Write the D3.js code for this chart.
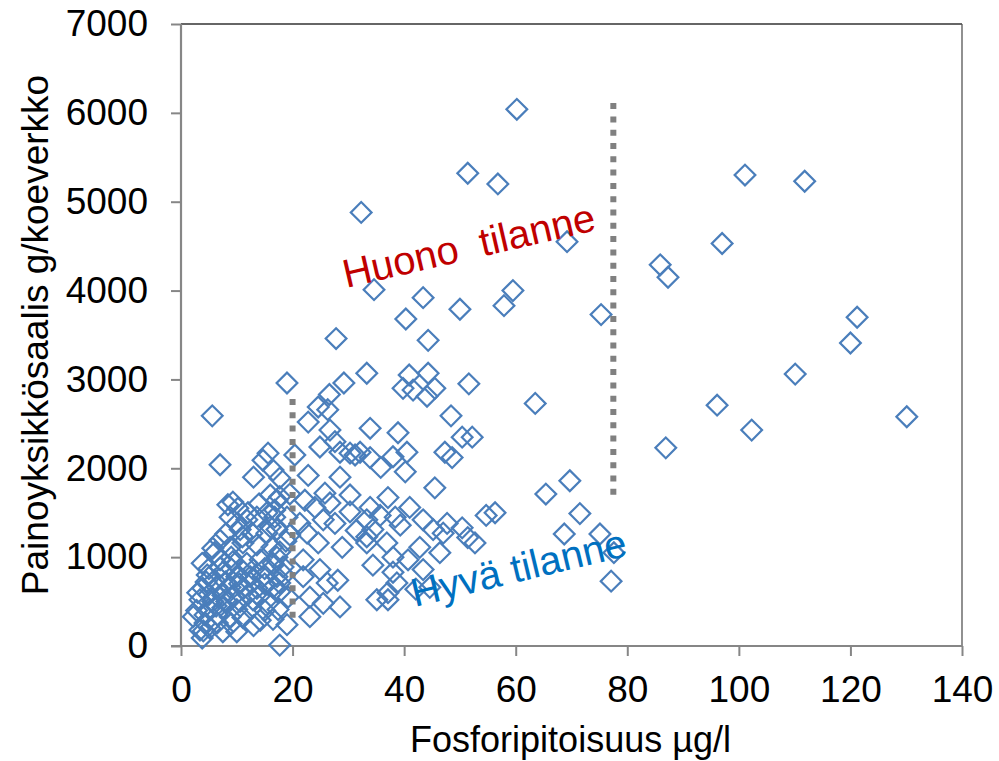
<!DOCTYPE html>
<html><head><meta charset="utf-8">
<script src="https://cdn.jsdelivr.net/npm/d3@7"></script>
<style>
body{margin:0;background:#fff;}
text{font-family:"Liberation Sans",Arial,sans-serif;}
</style></head>
<body><svg id="c" width="999" height="761"></svg>
<script>
// Phosphorus (µg/l)
const phosphorus = [
60.2,51.4,56.8,32.3,101.1,111.8,69.2,85.9,87.3,97.0,34.6,59.5,57.9,43.4,40.3,50.0,75.3,121.2,120.0,27.8,
44.3,110.1,33.3,40.9,44.3,19.0,29.2,51.6,39.8,41.6,45.5,44.1,63.5,96.1,130.1,102.3,86.9,5.6,7.0,22.8,
48.4,26.6,24.6,26.3,26.7,27.6,28.5,32.1,33.9,31.2,30.3,33.9,38.9,50.4,52.2,47.3,48.6,40.5,38.0,40.2,
35.8,24.9,20.4,15.6,14.7,16.5,17.7,22.8,28.5,45.5,69.7,65.4,71.5,68.7,75.1,77.6,77.1,54.7,56.3,52.7,
51.4,50.4,47.7,47.0,45.2,43.4,42.8,46.4,41.0,37.1,38.4,39.3,38.0,38.0,38.7,43.4,44.6,37.1,40.7,42.1,
34.4,35.1,37.1,30.3,25.8,24.0,26.7,25.5,27.6,30.3,33.9,33.3,35.7,17.2,16.8,21.3,22.6,19.5,17.2,24.6,
28.9,33.3,34.4,33.3,36.9,17.2,18.3,21.9,21.9,24.9,26.2,28.1,17.7,19.2,23.1,25.5,28.5,23.1,17.4,22.2,
19.5,31.4,
9.3,8.4,10.2,11.8,8.8,13.6,15.4,16.8,17.7,10.6,12.7,15.4,16.0,7.0,8.8,11.1,13.6,16.3,17.7,5.7,
3.8,7.0,9.3,11.8,14.2,16.5,4.7,7.5,10.0,12.4,14.7,17.2,3.9,6.5,8.8,11.1,13.6,16.5,17.7,3.4,
5.7,8.2,10.6,12.9,15.6,2.2,4.3,6.5,8.8,11.1,14.2,3.4,5.2,7.5,10.0,3.8,17.7,
6.0,8.0,10.0,12.0,14.0,16.0,5.0,7.0,9.0,11.0,13.0,15.0,4.5,6.0,8.0,10.5,12.5,15.0,3.0,5.0,
7.5,9.5,12.0,14.0,2.8,5.0,7.5,10.0,12.5,15.0,4.3,6.5,9.0,13.0,16.5,18.5,18.8,19.0,13.0,11.0,
9.0,6.3,4.0,19.0
];
// Catch per unit effort (g/net)
const catchPerNet = [
6040,5320,5200,4880,5300,5230,4550,4290,4150,4530,4010,4000,3830,3920,3680,3790,3730,3700,3410,3460,
3440,3060,3070,3050,3070,2960,2960,2950,2900,2880,2900,2810,2730,2710,2580,2430,2230,2590,2040,2520,
2590,2830,2690,2660,2430,2300,2180,2180,2120,2150,2170,2450,2400,2350,2350,2180,2120,2180,2130,1960,
2010,2240,2150,2170,2090,1980,1890,1920,1900,1780,1860,1710,1490,1260,1260,1050,730,1470,1500,1160,
1220,1330,1380,1270,1310,1420,1110,1050,1560,1670,1450,1360,1000,830,710,860,660,520,970,640,
910,520,600,1700,1720,1560,1610,1420,1380,1510,1560,1420,1470,1640,1450,1380,1270,1250,1310,1160,
1110,1230,1310,1160,1160,1000,890,970,780,860,710,740,710,550,550,480,440,330,410,1640,
1710,1300,
1620,1590,1550,1420,1450,1450,1500,1530,1680,1310,1270,1270,1340,1190,1110,1160,1140,1110,1060,1100,
930,970,950,930,970,930,800,830,780,780,780,780,650,660,660,650,650,660,610,520,
500,500,500,520,480,330,350,350,330,320,290,180,200,160,160,90,10,
1050,1260,1380,1500,1600,1700,870,880,870,850,860,870,720,740,720,700,710,700,600,580,
570,560,580,560,400,420,430,410,420,400,260,260,250,230,300,800,1180,1450,1900,1230,
1000,450,170,240
];
const xTicks = [0,20,40,60,80,100,120,140];
const yTicks = [0,1000,2000,3000,4000,5000,6000,7000];
// threshold lines: [x, yTop, yBottom]
const thresholds = [[20,2780,315],[77.5,6110,1677]];
const labels = [
  {text:"Huono  tilanne", x:29.6, y:4030, angle:-13, color:"#C00000"},
  {text:"Hyvä tilanne", x:41.9, y:440, angle:-13.5, color:"#0070C0"}
];
const xTitle = "Fosforipitoisuus µg/l";
const yTitle = "Painoyksikkösaalis g/koeverkko";

const svg = d3.select("#c");
const L=181, T=24, R=962, B=646;
const x = d3.scaleLinear().domain([0,140]).range([L,R]);
const y = d3.scaleLinear().domain([0,7000]).range([B,T]);
const axisCol="#868686";

// plot border top/right
svg.append("line").attr("x1",L).attr("x2",R).attr("y1",T).attr("y2",T).attr("stroke","#333").attr("stroke-width",1.5);
svg.append("line").attr("x1",R).attr("x2",R).attr("y1",T).attr("y2",B).attr("stroke","#555").attr("stroke-width",1.3);

// axes
const xAxis = d3.axisBottom(x).tickValues(xTicks).tickSize(10).tickPadding(20).tickFormat(d3.format("d"));
const gx = svg.append("g").attr("transform",`translate(0,${B})`).call(xAxis);
gx.select(".domain").attr("stroke",axisCol).attr("stroke-width",2.2).attr("d",`M${L-10},0H${R}`);
gx.selectAll(".tick line").attr("stroke",axisCol).attr("stroke-width",2);
gx.selectAll(".tick text").attr("font-size",37).attr("fill","#000").attr("font-family",'"Liberation Sans",Arial,sans-serif');

const yAxis = d3.axisLeft(y).tickValues(yTicks).tickSize(10).tickPadding(23).tickFormat(d3.format("d"));
const gy = svg.append("g").attr("transform",`translate(${L},0)`).call(yAxis);
gy.select(".domain").attr("stroke",axisCol).attr("stroke-width",2.2).attr("d",`M0,${T}V${B}`);
gy.selectAll(".tick line").attr("stroke",axisCol).attr("stroke-width",2);
gy.selectAll(".tick text").attr("font-size",37).attr("fill","#000").attr("font-family",'"Liberation Sans",Arial,sans-serif');

// titles
svg.append("text").attr("x",(L+R)/2-1).attr("y",752).attr("text-anchor","middle").attr("font-size",36).text(xTitle);
svg.append("text").attr("transform",`translate(48,${(T+B)/2})rotate(-90)`).attr("text-anchor","middle").attr("font-size",37).text(yTitle);

// points
const pts = phosphorus.map((p,i)=>({p, c:catchPerNet[i]}));
const sym = d3.symbol().type(d3.symbolSquare).size(215);
svg.append("g").selectAll("path").data(pts).join("path")
  .attr("d",sym)
  .attr("transform",d=>`translate(${x(d.p)},${y(d.c)})rotate(45)`)
  .attr("fill","none").attr("stroke","#4A7EBB").attr("stroke-width",2.2);

// threshold dotted lines
svg.append("g").selectAll("line").data(thresholds).join("line")
  .attr("x1",d=>x(d[0])).attr("x2",d=>x(d[0]))
  .attr("y1",d=>y(d[1])).attr("y2",d=>y(d[2]))
  .attr("stroke","#808080").attr("stroke-width",6).attr("stroke-dasharray","6,7.3");

// labels
svg.append("g").selectAll("text").data(labels).join("text")
  .attr("transform",d=>`translate(${x(d.x)},${y(d.y)})rotate(${d.angle})`)
  .attr("font-size",40).attr("fill",d=>d.color).style("white-space","pre")
  .text(d=>d.text);
</script></body></html>
